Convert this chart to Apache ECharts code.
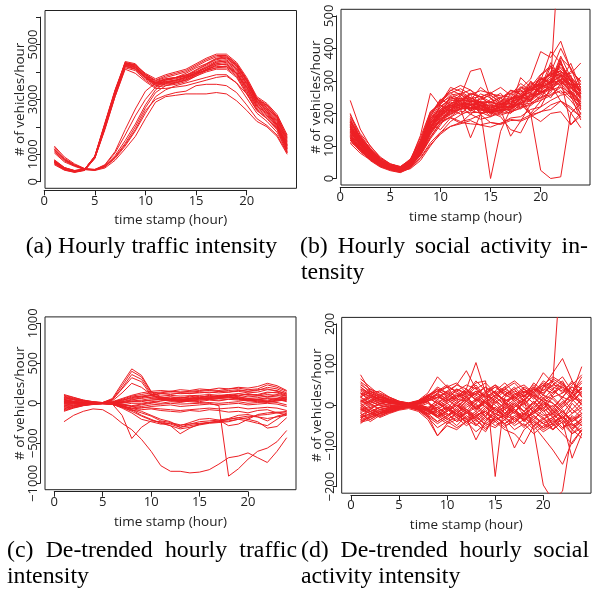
<!DOCTYPE html>
<html>
<head>
<meta charset="utf-8">
<script src="https://cdn.jsdelivr.net/npm/echarts@6/dist/echarts.min.js"></script>
<style>
  html, body { margin: 0; padding: 0; background: #fff; }
  #chart { width: 592px; height: 595px; }
</style>
</head>
<body>
<div id="chart"></div>
<script>
// x values: one point per hour
var hours = [1,2,3,4,5,6,7,8,9,10,11,12,13,14,15,16,17,18,19,20,21,22,23,24];
var xTicks = [0, 5, 10, 15, 20];

var yTicksA = [0, 1000, 2000, 3000, 4000, 5000, 6000];
var yLabelsA = [0, 1000, 3000, 5000];          // R drops the others (overlap)
var yTicksB = [0, 100, 200, 300, 400, 500];
var yTicksC = [-1000, -500, 0, 500, 1000];
var yTicksD = [-200, -100, 0, 100, 200];

// (a) hourly traffic, one row per day
var trafficHourly = [
  [720,480,380,440,880,2000,3200,4380,4300,3900,3650,3750,3800,3950,4150,4300,4500,4550,4250,3700,3000,2700,2300,1500],
  [680,450,360,430,900,2100,3300,4300,4200,3850,3600,3700,3750,3850,4050,4250,4450,4500,4200,3650,2950,2650,2250,1400],
  [800,520,400,460,920,2050,3250,4250,4150,3800,3550,3600,3650,3750,3950,4150,4350,4400,4100,3550,2900,2600,2150,1300],
  [650,430,350,420,860,1950,3150,4200,4100,3750,3500,3550,3600,3700,3900,4100,4300,4350,4050,3500,2850,2550,2100,1200],
  [750,500,390,450,940,2150,3350,4350,4250,3900,3700,3850,3950,4050,4250,4450,4600,4600,4300,3750,3050,2800,2400,1600],
  [700,470,370,440,890,2000,3200,4280,4180,3820,3580,3650,3700,3820,4000,4200,4400,4450,4150,3600,2950,2700,2300,1450],
  [780,510,410,470,910,2100,3300,4320,4220,3870,3620,3720,3780,3880,4080,4280,4480,4520,4220,3680,3000,2750,2350,1550],
  [620,420,340,410,850,1900,3100,4150,4050,3700,3450,3500,3550,3650,3850,4050,4250,4300,4000,3450,2800,2500,2050,1150],
  [730,490,380,450,900,2050,3250,4300,4250,3950,3750,3900,4000,4100,4300,4500,4650,4650,4350,3800,3100,2850,2450,1700],
  [690,460,360,430,870,1980,3180,4230,4120,3780,3520,3580,3620,3720,3900,4080,4250,4280,3950,3400,2750,2450,2000,1100],
  [760,500,400,460,930,2120,3320,4330,4270,3920,3680,3800,3900,4000,4200,4400,4550,4580,4280,3720,3020,2780,2380,1650],
  [710,470,370,440,880,2020,3220,4270,4170,3810,3560,3620,3680,3780,3960,4160,4360,4400,4120,3580,2920,2620,2200,1350],
  [700,460,370,430,860,1950,3100,4100,3950,3650,3400,3400,3450,3500,3600,3700,3800,3850,3600,3200,2600,2300,1900,1050],
  [740,490,390,450,900,2050,3200,4200,4100,3800,3600,3650,3700,3800,3950,4050,4150,4200,3950,3450,2850,2550,2100,1250],
  [1300,900,650,480,450,580,950,1500,2100,2800,3350,3600,3700,3800,3900,4100,4200,4200,3900,3300,2700,2400,2000,1300],
  [1250,850,620,470,430,560,900,1400,2000,2700,3250,3500,3600,3700,3850,4000,4100,4100,3800,3200,2600,2300,1900,1200],
  [1150,800,600,460,440,600,1050,1700,2400,3000,3450,3700,3800,3900,4000,4150,4300,4250,3950,3350,2750,2500,2050,1350],
  [1100,760,580,450,420,540,850,1300,1850,2500,3100,3350,3500,3600,3700,3800,3900,3900,3600,3050,2500,2200,1800,1100],
  [1200,820,600,460,430,550,880,1350,1900,2600,3000,3150,3250,3300,3500,3550,3550,3500,3250,2800,2300,2050,1700,1050],
  [1050,720,560,440,410,500,780,1200,1650,2300,2900,3100,3150,3200,3200,3200,3250,3200,2950,2600,2200,2000,1650,1000],
  [1180,790,590,455,445,620,1100,1900,2650,3300,3600,3750,3800,3850,3950,4050,4150,4150,3850,3250,2650,2350,1950,1250]
];

// (b) hourly social activity (null = missing hour)
var socialHourly = [
  [150,112,78,47,33,27,44,95,170,208,226,215,240,228,206,225,219,250,241,282,290,318,270,236],
  [128,96,66,44,30,24,40,82,150,176,188,175,182,196,172,168,186,190,212,220,240,256,262,210],
  [176,118,90,52,37,31,52,104,200,236,262,276,258,270,262,280,256,292,270,310,290,360,280,282],
  [118,84,58,39,27,21,36,74,128,172,190,214,236,198,224,206,244,218,262,244,302,286,318,214],
  [190,134,92,58,41,33,56,118,204,234,250,238,260,252,226,236,230,274,236,306,318,332,288,290],
  [142,102,74,44,31,25,43,86,158,188,222,236,206,226,198,228,216,246,280,264,284,352,296,242],
  [162,110,82,54,38,29,47,101,190,240,270,286,272,250,262,246,270,260,282,320,346,320,290,270],
  [134,92,60,41,29,23,37,78,144,176,212,198,226,236,204,220,206,226,232,250,264,318,282,222],
  [156,114,76,49,35,27,46,93,162,202,218,232,224,205,0,145,214,238,246,268,296,300,290,248],
  [146,104,71,45,33,26,45,87,158,198,224,216,232,210,218,222,218,246,200,25,0,5,200,232],
  [166,118,79,51,36,29,47,97,172,206,230,242,226,236,214,230,238,244,272,276,300,790,null,null],
  [174,126,87,56,39,31,51,106,184,218,244,252,330,338,246,230,242,252,276,286,314,318,302,262],
  [124,88,63,41,30,23,39,73,136,178,196,214,125,198,210,206,226,230,258,262,280,306,264,238],
  [152,106,74,48,34,29,44,91,158,192,218,226,214,222,204,212,130,176,228,256,276,296,280,246],
  [196,138,101,63,45,37,57,126,206,228,256,262,246,252,236,248,262,276,306,390,372,422,334,296],
  [108,78,57,37,26,19,33,64,110,142,160,172,168,165,172,166,178,180,196,204,226,238,220,188],
  [160,110,79,51,36,29,48,96,166,204,218,236,228,232,216,228,226,252,258,284,300,326,322,355],
  [144,102,69,46,32,26,42,87,154,194,208,226,218,224,208,216,218,242,250,276,286,304,165,192],
  [138,95,68,42,31,25,41,81,146,183,209,211,224,208,212,202,220,228,252,260,288,238,202,156],
  [182,128,91,57,40,32,55,132,262,222,244,246,248,236,236,228,246,254,276,292,324,338,308,268],
  [124,89,61,40,29,24,38,76,136,180,198,216,214,214,200,210,212,232,238,262,276,298,264,230],
  [240,152,99,66,45,35,53,101,172,204,232,238,242,224,226,218,236,246,268,282,314,322,298,252],
  [168,116,83,52,37,30,47,101,182,232,280,268,248,232,234,226,244,250,274,288,306,324,286,258],
  [156,108,77,49,34,28,46,92,160,200,214,232,228,226,212,220,222,246,254,280,294,314,282,250],
  [148,105,72,46,33,27,45,89,156,196,212,228,224,222,210,218,220,310,280,302,318,330,304,260],
  [132,92,65,41,30,25,40,79,143,184,200,216,214,212,202,190,150,140,200,238,272,282,262,224],
  [172,124,86,54,38,31,50,103,176,212,228,246,236,236,222,230,232,256,264,300,390,356,302,272],
  [142,100,70,44,32,26,43,85,150,190,204,222,218,218,204,212,214,236,195,175,200,205,165,202],
  [158,112,78,50,35,29,47,97,168,208,222,240,236,234,220,228,230,254,264,294,326,400,338,288],
  [162,116,81,51,36,30,48,99,170,208,224,242,262,250,265,240,248,258,282,294,328,342,314,272],
  [128,92,64,42,30,25,39,77,140,184,202,220,216,216,202,210,212,234,242,266,282,302,268,234],
  [178,126,89,56,40,32,53,109,186,212,240,240,248,232,234,226,244,252,276,290,322,330,304,262],
  [152,106,74,48,34,28,45,90,160,198,212,230,226,226,212,220,222,246,254,280,296,316,282,254],
  [118,84,60,38,28,22,36,71,126,170,188,206,202,204,190,202,202,220,224,248,258,280,248,222],
  [200,120,88,60,42,34,58,112,190,240,265,236,258,214,244,262,226,280,262,318,340,290,330,300],
  [112,90,55,35,24,18,32,62,104,136,160,168,178,164,158,170,182,176,190,206,212,238,214,190],
  [165,100,72,56,40,35,50,98,175,225,206,252,208,248,230,250,208,236,300,266,346,300,354,276],
  [140,118,84,46,32,24,44,90,150,212,236,224,244,216,192,236,244,270,236,290,270,364,250,236],
  [185,112,70,42,30,26,41,84,148,190,254,228,232,260,248,208,262,244,288,306,298,376,310,282],
  [130,108,80,53,37,28,46,96,168,150,186,170,198,182,190,214,200,230,196,220,280,262,268,196],
  [172,130,94,62,44,36,60,116,196,244,226,258,236,244,256,232,270,266,296,278,356,310,276,312],
  [120,96,66,40,28,22,36,70,122,164,210,222,196,230,212,200,228,214,244,270,248,292,256,180],
  [158,122,86,55,38,31,52,104,178,218,248,260,272,240,260,254,250,282,270,310,292,370,340,260],
  [136,98,70,44,31,26,42,83,152,230,272,258,240,280,256,236,272,258,292,286,314,356,300,268],
  [125,85,60,40,28,22,30,55,100,140,175,195,210,200,205,195,205,215,230,240,255,270,240,200]
];

// (c) de-trended hourly traffic
var trafficDetrended = [
  [40,20,10,5,10,60,250,430,350,150,80,60,50,60,70,80,90,100,80,60,50,40,60,80],
  [30,15,8,4,8,50,220,400,330,140,70,50,40,50,60,70,80,90,70,50,40,30,50,70],
  [20,10,5,3,6,40,190,360,300,120,60,40,30,40,50,60,70,80,60,40,30,20,40,60],
  [50,25,12,6,10,45,180,320,270,100,50,30,20,30,40,50,60,70,50,30,20,10,30,50],
  [10,5,3,2,5,30,130,250,200,110,60,50,40,50,60,60,70,80,60,40,30,20,30,40],
  [100,70,40,20,10,20,60,100,130,150,160,150,140,150,160,170,160,180,190,170,180,230,200,150],
  [80,55,30,15,5,15,50,90,110,130,140,150,140,140,150,160,150,160,170,150,160,200,180,130],
  [60,40,20,10,0,10,40,70,90,110,120,130,120,125,130,140,130,140,150,130,140,170,160,110],
  [-20,-10,-5,0,0,5,20,50,60,80,90,100,90,95,100,110,100,110,120,100,110,140,130,90],
  [-50,-30,-15,-5,0,0,10,30,40,60,70,80,70,75,80,90,80,90,100,80,90,110,100,70],
  [-80,-50,-25,-10,-5,-5,0,20,20,40,50,60,50,55,60,70,60,70,80,60,70,90,80,50],
  [-100,-60,-30,-15,-5,-10,-20,0,0,20,30,40,30,35,40,50,40,50,60,40,50,60,50,20],
  [-60,-40,-20,-10,-5,-15,-40,-60,-40,-20,-10,0,-10,-5,0,10,0,10,20,0,10,20,10,-20],
  [90,60,35,15,5,-5,-30,-70,-60,-40,-30,-20,-40,-30,-20,-10,-20,-10,0,-20,-10,0,-10,-40],
  [70,45,25,12,4,0,-10,-40,-50,-60,-70,-80,-90,-80,-70,-60,-70,-60,-50,-70,-60,-50,-60,-90],
  [-30,-20,-10,-5,0,-10,-40,-80,-120,-160,-220,-240,-270,-260,-250,-240,-230,-200,-180,-160,-170,-190,-170,-150],
  [0,0,0,0,0,-10,-30,-60,-100,-150,-200,-230,-300,-260,-230,-220,-210,-190,-150,-140,-170,-220,-160,-130],
  [40,20,10,5,0,-5,-30,-80,-150,-200,-250,-280,-320,-300,-270,-250,-240,-230,-200,-220,-250,-280,-200,-120],
  [20,10,5,2,0,-10,-50,-100,-160,-210,-240,-280,-380,-310,-260,-240,-220,-200,-180,-200,-230,-310,-290,-180],
  [50,25,10,5,0,-10,-150,-440,-300,-220,-230,-260,-300,-280,-260,-240,-230,-220,-200,-180,-150,-140,-120,-100],
  [-70,-40,-20,-10,-5,-10,-60,-120,-200,-230,-260,-250,-280,-240,-200,-190,-210,-280,-260,-200,-140,-120,-110,-110],
  [-230,-150,-100,-70,-80,-150,-250,-330,-450,-600,-780,-850,-850,-870,-860,-830,-760,-680,-660,-620,-680,-740,-600,-430],
  [-10,-5,0,0,0,5,10,20,30,40,50,40,30,20,10,0,-30,-910,-820,-700,-600,-560,-480,-340],
  [70,50,30,15,5,15,40,60,80,100,120,110,130,120,140,130,150,140,160,150,170,180,150,120],
  [-40,-25,-12,-5,0,5,30,80,90,70,60,80,60,90,70,100,80,110,90,120,100,130,140,100],
  [20,12,6,2,0,-5,-20,-30,-10,10,0,20,10,30,20,40,30,50,40,30,50,70,60,30],
  [110,75,40,20,8,10,20,40,70,100,130,150,170,160,180,170,190,180,200,190,210,250,220,160],
  [-90,-55,-28,-12,-4,-15,-50,-90,-80,-70,-90,-100,-110,-90,-100,-80,-90,-110,-100,-120,-90,-80,-120,-140],
  [0,5,5,2,0,-5,-20,-40,-20,0,30,50,70,60,90,80,100,90,120,110,100,80,110,90]
];

// (d) de-trended hourly social activity (null = missing hour)
var socialDetrended = [
  [35,20,10,8,5,3,6,15,25,10,30,20,45,15,30,10,20,35,15,40,30,55,20,10],
  [-30,-25,-15,-10,-5,-3,-8,-20,-40,-25,-15,-35,-20,-40,-10,-30,-45,-20,-35,-10,-50,-25,-60,-30],
  [10,25,15,5,2,0,5,-10,15,35,20,40,10,30,45,25,15,30,50,25,60,40,15,45],
  [-10,-20,-5,-12,-3,-2,-4,5,-15,-5,-25,-10,-30,-5,-20,-35,-15,-40,-10,-25,-20,-45,-30,-50],
  [40,30,20,12,6,4,8,20,5,25,10,30,15,35,5,25,40,10,35,50,20,30,45,25],
  [-40,-30,-20,-15,-8,-4,-10,-25,-10,-35,-20,-45,-25,-15,-40,-20,-30,-55,-25,-45,-35,-15,-40,-20],
  [20,5,-10,-5,0,2,-3,10,30,15,40,25,50,20,35,55,30,20,45,30,50,70,35,60],
  [-20,-40,-25,-18,-10,-5,-12,-30,-55,-40,-30,-50,-35,-60,-30,-45,-25,-35,-60,-40,-30,-55,-45,-70],
  [75,35,20,10,5,3,5,10,20,30,15,35,25,45,20,40,25,45,30,60,45,35,55,40],
  [0,10,20,15,8,5,10,25,40,20,5,25,-10,15,35,5,20,0,25,10,-5,20,10,30],
  [-35,-10,5,0,-3,-2,-5,-15,-5,-20,-40,-15,-50,-25,-5,-30,-10,-40,-15,-30,-60,-25,-50,-35],
  [15,-5,-20,-10,-5,-4,-6,-12,-25,-5,-20,5,-15,10,-25,0,-20,15,-10,20,-15,10,-20,5],
  [25,40,30,20,10,6,12,30,70,45,55,30,60,35,50,25,45,20,55,35,65,50,30,70],
  [-15,0,10,5,2,1,0,-5,10,-15,0,-20,5,-30,15,-10,5,-25,10,-15,0,-35,5,-20],
  [5,-15,-30,-20,-12,-8,-15,-35,-75,-50,-60,-40,-65,-45,-55,-35,-60,-45,-70,-50,-40,-30,-55,-40],
  [30,15,5,10,6,3,7,18,35,25,40,30,55,60,-175,20,35,25,40,30,50,45,30,40],
  [-5,10,0,-5,-2,0,3,8,-10,5,-15,10,-5,15,-10,5,-20,10,-60,-196,-234,-211,-60,-80],
  [20,5,15,8,4,2,5,12,20,10,25,15,30,20,35,10,25,40,20,45,60,400,null,null],
  [-25,-10,-20,-12,-6,-3,-7,-20,5,-10,20,40,105,30,10,-20,5,-15,10,-10,20,-5,15,-10],
  [10,20,5,0,-2,-1,2,-5,-30,-20,-40,-30,-85,-40,-20,-30,-10,-35,-20,-5,-30,-15,-40,-20],
  [-10,5,25,15,7,4,8,20,45,30,50,85,40,55,30,45,20,40,25,50,35,20,45,30],
  [45,25,10,5,3,2,4,10,-20,0,-25,-10,-35,-15,-30,-45,-105,-60,-40,-55,-35,-60,-25,-50],
  [-30,-20,-10,-8,-4,-2,-5,-10,-25,-5,-30,-15,-40,-20,-5,-25,-10,-30,0,45,80,115,60,20],
  [30,10,0,-5,-3,-1,-3,-10,-5,-25,-10,-30,-15,-35,-20,-10,-40,-25,-50,-80,-110,-145,-90,-60],
  [0,-15,-5,-3,-2,-1,-2,-8,0,15,-5,20,-10,10,-15,5,-5,15,-20,10,-25,0,30,95],
  [55,30,15,8,4,2,5,15,25,5,-15,-35,-50,-30,-40,-60,-70,-95,-50,-30,-60,-40,-130,-70],
  [-45,-25,-15,-10,-5,-2,-5,-15,-30,-10,5,-15,15,-5,20,0,30,10,40,80,55,30,60,20],
  [-5,-15,-25,-15,-8,-4,-10,-25,-75,-45,-20,-40,-25,-50,-35,-55,-30,-50,-35,-55,-45,-25,-50,-35],
  [20,35,25,15,8,5,10,25,35,45,15,10,35,5,25,40,55,30,45,15,40,60,20,45],
  [-20,-35,-20,-14,-7,-4,-9,-22,-15,-30,-50,-25,-45,-65,-25,-50,-40,-20,-45,-65,-50,-35,-70,-45],
  [30,22,15,10,6,4,-2,-10,-25,-15,5,20,35,25,10,-5,-20,-35,-15,10,30,45,20,5],
  [-25,-15,-5,2,-3,-5,-8,-15,-5,10,25,35,20,5,-10,-25,-35,-20,-5,15,5,-15,-35,-20],
  [50,35,18,8,4,3,8,22,40,30,10,-10,-25,-15,5,25,40,50,30,10,-15,-30,-10,15],
  [-38,-30,-18,-8,-3,-2,-6,-12,-30,-45,-35,-20,-5,10,25,15,0,-15,-30,-45,-60,-40,-20,-5],
  [5,12,20,14,7,4,10,25,15,-5,-25,-40,-30,-10,15,35,20,5,-15,-35,-20,5,25,40],
  [-8,-20,-28,-16,-9,-5,-12,-28,-45,-30,-10,10,30,45,30,10,-10,-30,-50,-35,-10,20,50,75],
  [65,45,25,12,6,3,6,15,30,45,35,20,0,-20,-35,-25,-5,15,30,50,70,55,30,10],
  [-42,-35,-22,-14,-8,-4,-9,-20,-10,5,20,30,15,-5,-25,-45,-30,-15,5,25,15,-10,-45,-65],
  [22,30,35,20,10,5,11,25,10,-10,-30,-20,5,25,45,30,10,-15,-40,-60,-45,-20,10,35],
  [-12,-5,5,10,5,2,-4,-10,-25,-40,-55,-40,-20,0,20,5,-15,-35,-20,0,25,50,30,0],
  [45,28,12,4,2,1,4,10,20,35,50,40,25,10,-10,-30,-50,-35,-15,5,-20,-45,-70,-55],
  [-28,-22,-12,-6,-3,-1,-3,-8,5,20,35,50,40,20,0,-20,-5,15,35,55,40,15,-10,-30],
  [12,2,-10,-18,-10,-5,-10,-25,-40,-25,-5,15,-5,-30,-50,-35,-15,5,25,10,-10,-35,-60,-40],
  [58,40,22,12,6,3,8,18,5,-10,-20,-5,10,30,50,35,15,-5,-25,-45,-30,-5,20,45],
  [-18,-8,2,8,4,2,6,14,28,15,0,-15,-35,-55,-40,-20,0,20,40,25,5,-20,-40,-25],
  [38,26,14,6,3,1,-2,-8,-20,-35,-20,0,15,5,-15,-5,15,35,20,-5,-30,-55,-35,-10],
  [-35,-28,-20,-10,-5,-2,-5,-12,-28,-15,0,-15,-30,-45,-30,-10,10,25,5,-20,-45,-70,-95,-60],
  [8,18,28,18,9,5,10,22,35,50,30,10,-10,5,25,45,60,40,20,0,-20,5,30,55]
];

var RED = '#ED1F24';
var INK = '#222';
var AXIS_FONT = '"Open Sans", "Liberation Sans", sans-serif';
var CAP_FONT = '"Liberation Serif", "DejaVu Serif", serif';

// plot boxes in pixels: [left, top, right, bottom]; limits as R pads them (4%)
var panels = [
  { box: [45, 10.5, 296.5, 188.3], xlim: [0.08, 24.92], ylim: [-240, 6240], yTicks: yTicksA, yLabels: yLabelsA, lines: trafficHourly },
  { box: [341, 9.3, 590, 185],     xlim: [0.08, 24.92], ylim: [-20, 520],   yTicks: yTicksB, yLabels: yTicksB,  lines: socialHourly },
  { box: [45, 316.9, 296, 489.7],  xlim: [-0.96, 24.96], ylim: [-1080, 1080], yTicks: yTicksC, yLabels: yTicksC, lines: trafficDetrended },
  { box: [341.7, 317.4, 591, 493.2], xlim: [-0.96, 24.96], ylim: [-216, 216], yTicks: yTicksD, yLabels: yTicksD, lines: socialDetrended }
];

var grid = [], xAxis = [], yAxis = [], series = [], graphic = [];
var tickStyle = { color: INK, width: 1 };
var labelStyle = { color: INK, fontSize: 13, fontFamily: AXIS_FONT };

panels.forEach(function (p) {
  var l = p.box[0], t = p.box[1], r = p.box[2], b = p.box[3];
  var sx = function (v) { return l + (v - p.xlim[0]) / (p.xlim[1] - p.xlim[0]) * (r - l); };
  var sy = function (v) { return b - (v - p.ylim[0]) / (p.ylim[1] - p.ylim[0]) * (b - t); };
  var g = grid.length;

  // the plot box itself
  grid.push({ left: l, top: t, width: r - l, height: b - t, show: true, borderColor: INK, borderWidth: 1, backgroundColor: 'transparent', outerBoundsMode: 'none' });
  xAxis.push({ gridIndex: g, type: 'value', min: p.xlim[0], max: p.xlim[1], show: false });
  yAxis.push({ gridIndex: g, type: 'value', min: p.ylim[0], max: p.ylim[1], show: false });

  // bottom axis, only as long as its ticks (R style)
  var x0 = sx(xTicks[0]), x1 = sx(xTicks[xTicks.length - 1]);
  grid.push({ left: x0, top: b + 1, width: x1 - x0, height: 1, outerBoundsMode: 'none' });
  xAxis.push({
    gridIndex: g + 1, type: 'value', position: 'bottom',
    min: xTicks[0], max: xTicks[xTicks.length - 1], interval: xTicks[1] - xTicks[0],
    axisLine: { show: true, onZero: false, lineStyle: tickStyle },
    axisTick: { show: true, length: 5, lineStyle: tickStyle },
    axisLabel: Object.assign({ margin: 4, showMinLabel: true, showMaxLabel: true }, labelStyle),
    splitLine: { show: false }
  });
  yAxis.push({ gridIndex: g + 1, type: 'value', min: 0, max: 1, show: false });

  // left axis
  var yt = p.yTicks, y0 = sy(yt[yt.length - 1]), y1 = sy(yt[0]);
  grid.push({ left: l - 5, top: y0, width: 1, height: y1 - y0, outerBoundsMode: 'none' });
  xAxis.push({ gridIndex: g + 2, type: 'value', min: 0, max: 1, show: false });
  yAxis.push({
    gridIndex: g + 2, type: 'value', position: 'left',
    min: yt[0], max: yt[yt.length - 1], interval: yt[1] - yt[0],
    axisLine: { show: true, onZero: false, lineStyle: tickStyle },
    axisTick: { show: true, length: 4, lineStyle: tickStyle },
    axisLabel: Object.assign({
      margin: 0, rotate: 90, showMinLabel: true, showMaxLabel: true,
      formatter: function (v) { return p.yLabels.indexOf(v) >= 0 ? String(v).replace('-', '\u2212') : ''; }
    }, labelStyle),
    splitLine: { show: false }
  });

  // axis titles
  graphic.push({ type: 'text', x: (l + r) / 2, y: b + 32, silent: true,
    style: { text: 'time stamp (hour)', fill: INK, font: '13.5px ' + AXIS_FONT, align: 'center', verticalAlign: 'middle' } });
  graphic.push({ type: 'text', x: l - 25, y: (t + b) / 2, rotation: Math.PI / 2, silent: true,
    style: { text: '# of vehicles/hour', fill: INK, font: '13.5px ' + AXIS_FONT, align: 'center', verticalAlign: 'middle' } });

  p.lines.forEach(function (vals) {
    var pts = [];
    hours.forEach(function (h, k) { if (vals[k] !== null) pts.push([h, vals[k]]); });
    series.push({
      type: 'line', xAxisIndex: g, yAxisIndex: g, data: pts, clip: true,
      showSymbol: false, symbol: 'none', silent: true, animation: false,
      lineStyle: { color: RED, width: 1 }
    });
  });
});

// sub-captions, justified like the LaTeX source
var capFont = '23.8px ' + CAP_FONT;
var measure = document.createElement('canvas').getContext('2d');
measure.font = capFont;
function capLine(text, x0, x1, y) {
  var words = text.split(' ');
  if (x1 === null) {
    graphic.push({ type: 'text', x: x0, y: y, silent: true,
      style: { text: text, fill: '#000', font: capFont, align: 'left', verticalAlign: 'middle' } });
    return;
  }
  var widths = words.map(function (w) { return measure.measureText(w).width; });
  var sum = widths.reduce(function (a, c) { return a + c; }, 0);
  var gap = (x1 - x0 - sum) / (words.length - 1);
  var x = x0;
  words.forEach(function (w, k) {
    graphic.push({ type: 'text', x: x, y: y, silent: true,
      style: { text: w, fill: '#000', font: capFont, align: 'left', verticalAlign: 'middle' } });
    x += widths[k] + gap;
  });
}
var capY1 = 247, capY2 = 273, capY3 = 551, capY4 = 577;
capLine('(a) Hourly traffic intensity', 25.7, null, capY1);
capLine('(b) Hourly social activity in-', 300, 588, capY1);
capLine('tensity', 301, null, capY2);
capLine('(c) De-trended hourly traffic', 7, 297, capY3);
capLine('intensity', 7, null, capY4);
capLine('(d) De-trended hourly social', 301, 589, capY3);
capLine('activity intensity', 301, null, capY4);

var chart = echarts.init(document.getElementById('chart'), null, { renderer: 'canvas' });
chart.setOption({
  animation: false,
  backgroundColor: '#fff',
  grid: grid,
  xAxis: xAxis,
  yAxis: yAxis,
  series: series,
  graphic: graphic
});
</script>
</body>
</html>
